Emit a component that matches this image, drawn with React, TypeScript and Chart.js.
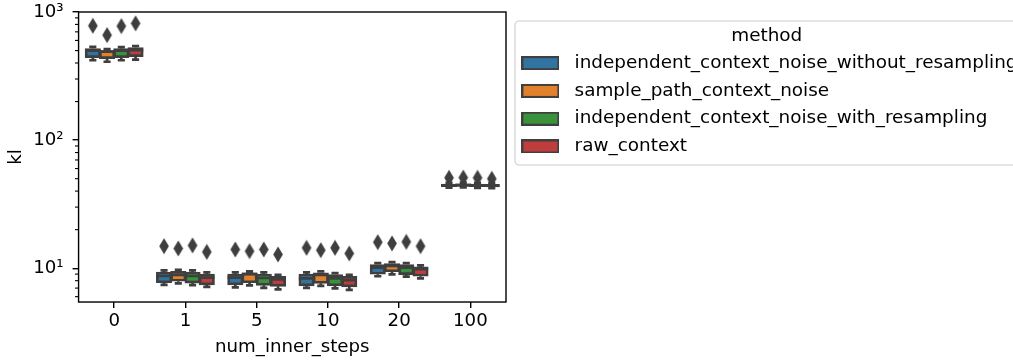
import React, { useEffect, useRef } from 'react';
import { Chart, registerables } from 'chart.js';

Chart.register(...registerables);

// ---------- data ----------
const categories = ['0', '1', '5', '10', '20', '100'];
const methods = [
  'independent_context_noise_without_resampling',
  'sample_path_context_noise',
  'independent_context_noise_with_resampling',
  'raw_context',
];
const methodColors = ['#3274a1', '#e1812c', '#3a923a', '#c03d3e'];
const lineGray = '#3f3f3f';

// independent_context_noise_without_resampling
const indepWithoutQ1 = [439.7, 7.7, 7.42, 7.29, 8.97, 43.4];
const indepWithoutQ3 = [519.2, 9.35, 9.02, 9.02, 10.69, 45.4];
const indepWithoutMed = [499.7, 8.7, 8.44, 8.35, 10.11, 44.4];
const indepWithoutLo = [420.3, 7.42, 7.1, 7.03, 8.66, 42.5];
const indepWithoutHi = [533.4, 9.61, 9.27, 9.27, 10.98, 46.4];
const indepWithoutOut = [780.6, 14.88, 14.02, 14.43, 15.99, 50.8];

// sample_path_context_noise
const samplePathQ1 = [431.9, 7.91, 7.7, 7.63, 9.39, 43.6];
const samplePathQ3 = [498.9, 9.47, 9.22, 9.22, 10.88, 45.6];
const samplePathMed = [490.0, 8.86, 9.01, 8.86, 10.43, 44.6];
const samplePathLo = [409.1, 7.63, 7.36, 7.29, 8.97, 42.7];
const samplePathHi = [512.7, 9.73, 9.47, 9.47, 11.18, 46.6];
const samplePathOut = [660.0, 14.27, 13.6, 13.84, 15.62, 51.0];

// independent_context_noise_with_resampling
const indepWithQ1 = [439.7, 7.66, 7.36, 7.29, 8.92, 43.3];
const indepWithQ3 = [517.3, 9.35, 9.02, 8.92, 10.69, 45.3];
const indepWithMed = [498.9, 8.7, 8.39, 8.35, 10.11, 44.3];
const indepWithLo = [420.3, 7.38, 7.03, 6.97, 8.61, 42.4];
const indepWithHi = [531.5, 9.61, 9.27, 9.17, 10.98, 46.3];
const indepWithOut = [776.5, 15.07, 14.02, 14.43, 16.08, 50.8];

// raw_context
const rawQ1 = [447.7, 7.42, 7.22, 7.16, 8.66, 43.1];
const rawQ3 = [528.6, 9.02, 8.66, 8.66, 10.24, 45.1];
const rawMed = [503.5, 8.44, 8.2, 8.09, 9.82, 44.1];
const rawLo = [424.2, 7.16, 6.84, 6.78, 8.35, 42.2];
const rawHi = [543.0, 9.27, 8.89, 8.89, 10.52, 46.1];
const rawOut = [815.5, 13.42, 12.81, 13.04, 14.88, 49.9];

const boxQ1 = [indepWithoutQ1, samplePathQ1, indepWithQ1, rawQ1];
const boxQ3 = [indepWithoutQ3, samplePathQ3, indepWithQ3, rawQ3];
const boxMed = [indepWithoutMed, samplePathMed, indepWithMed, rawMed];
const boxLo = [indepWithoutLo, samplePathLo, indepWithLo, rawLo];
const boxHi = [indepWithoutHi, samplePathHi, indepWithHi, rawHi];
const boxOut = [indepWithoutOut, samplePathOut, indepWithOut, rawOut];

const yMin = 5.45;
const yMax = 1000;
const yTickValues = [10, 100, 1000];
const yTickLabels = ['10¹', '10²', '10³'];

// ---------- layout / style constants ----------
const CANVAS_W = 1030;
const CANVAS_H = 360;
const PLOT_RIGHT = 506;
const FONT = 18.2;
const LEGEND_FONT = 18.4;
const LEGEND_PAD = 9.4;
const LEGEND_SYMBOL_W = 50;
const BOX_PX = 15.4;
const hueOffset = (j: number) => (j - 1.5) * 0.2;
const boxHalf = 0.108;
const capHalf = 0.05;

function whiskerPoints(j: number) {
  const pts: any[] = [];
  categories.forEach((_, i) => {
    const xc = i + hueOffset(j);
    const gap = { x: xc, y: null };
    pts.push({ x: xc - boxHalf, y: boxMed[j][i] }, { x: xc + boxHalf, y: boxMed[j][i] }, gap);
    pts.push({ x: xc, y: boxQ1[j][i] }, { x: xc, y: boxLo[j][i] }, gap);
    pts.push({ x: xc - capHalf, y: boxLo[j][i] }, { x: xc + capHalf, y: boxLo[j][i] }, gap);
    pts.push({ x: xc, y: boxQ3[j][i] }, { x: xc, y: boxHi[j][i] }, gap);
    pts.push({ x: xc - capHalf, y: boxHi[j][i] }, { x: xc + capHalf, y: boxHi[j][i] }, gap);
  });
  return pts;
}

function makeDiamond() {
  const c = document.createElement('canvas');
  c.width = 12;
  c.height = 17;
  const g = c.getContext('2d')!;
  const cx = 6, cy = 8.5, hh = 6.35, hw = 3.8;
  g.beginPath();
  g.moveTo(cx, cy - hh);
  g.lineTo(cx + hw, cy);
  g.lineTo(cx, cy + hh);
  g.lineTo(cx - hw, cy);
  g.closePath();
  g.fillStyle = lineGray;
  g.fill();
  g.lineWidth = 1.8;
  g.strokeStyle = lineGray;
  g.stroke();
  return c;
}

function makePatch(color: string) {
  const c = document.createElement('canvas');
  c.width = 38;
  c.height = 14;
  const g = c.getContext('2d')!;
  g.fillStyle = color;
  g.fillRect(1, 1, 36, 12);
  g.lineWidth = 2;
  g.strokeStyle = lineGray;
  g.strokeRect(1, 1, 36, 12);
  return c;
}

const minorTickValues = [1, 10, 100]
  .flatMap((d) => [2, 3, 4, 5, 6, 7, 8, 9].map((m) => m * d))
  .filter((v) => v > yMin && v < yMax);

const framePlugin = {
  id: 'mplFrame',
  beforeDraw(chart: any) {
    const lg = chart.legend;
    if (!lg || !lg.legendHitBoxes || !lg.legendHitBoxes.length) return;
    const hb = lg.legendHitBoxes;
    const last = hb[hb.length - 1];
    const left = lg.left + 9;
    const top = lg.top + 9;
    const right = Math.max(...hb.map((h: any) => h.left + h.width)) + 7.2;
    const bottom = last.top + last.height + 9.3;
    const ctx = chart.ctx;
    ctx.save();
    ctx.beginPath();
    if (ctx.roundRect) ctx.roundRect(left, top, right - left, bottom - top, 4);
    else ctx.rect(left, top, right - left, bottom - top);
    ctx.fillStyle = 'rgba(255,255,255,0.8)';
    ctx.fill();
    ctx.strokeStyle = '#cccccc';
    ctx.lineWidth = 1.1;
    ctx.stroke();
    ctx.restore();
  },
  afterDraw(chart: any) {
    const { ctx, chartArea: a, scales } = chart;
    ctx.save();
    ctx.strokeStyle = '#000';
    ctx.lineWidth = 1.4;
    ctx.strokeRect(a.left, a.top, a.right - a.left, a.bottom - a.top);
    ctx.lineWidth = 1.1;
    const y = scales.y;
    for (const v of minorTickValues) {
      const py = y.getPixelForValue(v);
      if (py < a.top - 0.5 || py > a.bottom + 0.5) continue;
      ctx.beginPath();
      ctx.moveTo(a.left, py);
      ctx.lineTo(a.left - 3.6, py);
      ctx.stroke();
    }
    ctx.restore();
  },
};

export default function App() {
  const canvasRef = useRef<HTMLCanvasElement | null>(null);

  useEffect(() => {
    if (!canvasRef.current) return;
    Chart.defaults.font.family = "'DejaVu Sans'";
    Chart.defaults.font.size = FONT;
    Chart.defaults.color = '#000';

    const diamond = makeDiamond();
    const patches = methodColors.map(makePatch);

    // measure legend text so the plot area ends where the reference's does
    const mctx = document.createElement('canvas').getContext('2d')!;
    mctx.font = `${LEGEND_FONT}px 'DejaVu Sans'`;
    const textW = Math.max(...methods.map((m) => mctx.measureText(m).width));
    const legendW = LEGEND_PAD + LEGEND_SYMBOL_W + LEGEND_FONT / 2 + textW + 10;
    const padRight = CANVAS_W - PLOT_RIGHT - legendW;

    const barSets = methods.map((m, j) => ({
      type: 'bar' as const,
      label: m,
      data: categories.map((_, i) => ({ x: i + hueOffset(j), y: [boxQ1[j][i], boxQ3[j][i]] })),
      backgroundColor: methodColors[j],
      borderColor: lineGray,
      borderWidth: 2.7,
      borderSkipped: false,
      grouped: false,
      barThickness: BOX_PX,
      xAxisID: 'x2',
      yAxisID: 'y',
      order: 3,
    }));
    const whiskerSets = methods.map((m, j) => ({
      type: 'line' as const,
      label: m + ' whiskers',
      data: whiskerPoints(j),
      xAxisID: 'x2',
      yAxisID: 'y',
      borderColor: lineGray,
      borderWidth: 2.7,
      pointRadius: 0,
      pointHoverRadius: 0,
      spanGaps: false,
      fill: false,
      tension: 0,
      order: 2,
    }));
    const outlierSets = methods.map((m, j) => ({
      type: 'scatter' as const,
      label: m + ' outliers',
      data: categories.map((_, i) => ({ x: i + hueOffset(j), y: boxOut[j][i] })),
      xAxisID: 'x2',
      yAxisID: 'y',
      pointStyle: diamond,
      pointRadius: 6,
      backgroundColor: lineGray,
      borderColor: lineGray,
      order: 1,
    }));

    const chart = new Chart(canvasRef.current, {
      type: 'bar',
      data: {
        labels: categories,
        datasets: [...barSets, ...whiskerSets, ...outlierSets] as any,
      },
      plugins: [framePlugin],
      options: {
        responsive: false,
        animation: false,
        events: [],
        layout: { padding: { top: 12, right: padRight, bottom: 0, left: 0 } },
        scales: {
          x: {
            type: 'category',
            offset: true,
            grid: { drawOnChartArea: false, offset: false, tickLength: 6, color: '#000', lineWidth: 1.4 },
            border: { display: false },
            ticks: { padding: 2.5, color: '#000', font: { size: FONT }, maxRotation: 0, autoSkip: false },
            title: {
              display: true,
              text: 'num_inner_steps',
              color: '#000',
              font: { size: FONT },
              padding: { top: 1.1, bottom: 2.2 },
            },
          },
          x2: { type: 'linear', display: false, min: -0.5, max: 5.5, offset: false },
          y: {
            type: 'logarithmic',
            min: yMin,
            max: yMax,
            afterBuildTicks: (s: any) => {
              s.ticks = yTickValues.map((v) => ({ value: v, major: true }));
            },
            afterFit: (s: any) => {
              s.paddingTop = 0;
              s.paddingBottom = 0;
            },
            ticks: {
              callback: (v: any) => {
                const k = yTickValues.indexOf(Number(v));
                return k >= 0 ? yTickLabels[k] : '';
              },
              padding: 9,
              color: '#000',
              font: { size: FONT },
              autoSkip: false,
            },
            grid: { drawOnChartArea: false, tickLength: 6, color: '#000', lineWidth: 1.4 },
            border: { display: false },
            title: {
              display: true,
              text: 'kl',
              color: '#000',
              font: { size: FONT },
              padding: { top: 4.9, bottom: -2.6 },
            },
          },
        },
        plugins: {
          tooltip: { enabled: false },
          legend: {
            position: 'right',
            align: 'start',
            maxWidth: 800,
            onClick: () => {},
            title: {
              display: true,
              text: 'method',
              color: '#000',
              font: { size: LEGEND_FONT, lineHeight: 0.95 },
              padding: { top: 15, bottom: 0 },
            },
            labels: {
              usePointStyle: true,
              pointStyleWidth: LEGEND_SYMBOL_W,
              padding: LEGEND_PAD,
              color: '#000',
              font: { size: LEGEND_FONT },
              generateLabels: () =>
                methods.map((m, j) => ({
                  text: m,
                  pointStyle: patches[j],
                  fillStyle: methodColors[j],
                  strokeStyle: lineGray,
                  lineWidth: 2,
                  hidden: false,
                  datasetIndex: j,
                  fontColor: '#000',
                })),
            },
          } as any,
        },
      } as any,
    });
    return () => chart.destroy();
  }, []);

  return (
    <div
      style={{
        position: 'fixed',
        left: 0,
        top: 0,
        width: 1013,
        height: 360,
        overflow: 'hidden',
        background: '#fff',
      }}
    >
      <canvas ref={canvasRef} width={CANVAS_W} height={CANVAS_H} style={{ display: 'block' }} />
    </div>
  );
}
